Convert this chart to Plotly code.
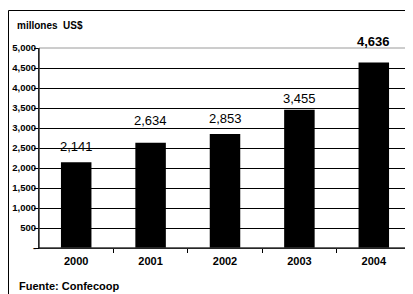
import plotly.graph_objects as go

years = ["2000", "2001", "2002", "2003", "2004"]
values = [2141, 2634, 2853, 3455, 4636]
value_labels = ["2,141", "2,634", "2,853", "3,455", "4,636"]
label_bold = [False, False, False, False, True]
label_offsets = [16, 22, 15, 11, 21]

y_ticks = [0, 500, 1000, 1500, 2000, 2500, 3000, 3500, 4000, 4500, 5000]
y_tick_text = ["-", "500", "1,000", "1,500", "2,000", "2,500", "3,000", "3,500", "4,000", "4,500", "5,000"]

FONT = "Liberation Sans Narrow, Arial Narrow, Liberation Sans, Arial, sans-serif"

xpos = list(range(len(years)))

fig = go.Figure()
fig.add_trace(go.Bar(x=xpos, y=values, marker=dict(color="black", line=dict(width=0)),
                     width=0.41, hoverinfo="skip"))

# page has an 8px body margin; figure pixel coords = page coords - 8
W, H = 405, 286
L, R, T, B = 31, 2, 40, 46
pw, ph = W - L - R, H - T - B


def px_x(x):
    return (x - L) / pw


def px_y(y):
    return (H - B - y) / ph


annotations = []
for xi, v, t, b, off in zip(xpos, values, value_labels, label_bold, label_offsets):
    annotations.append(dict(x=xi, y=v, xref="x", yref="y", text=f"<b>{t}</b>" if b else t,
                            showarrow=False, yanchor="middle", yshift=off,
                            font=dict(family=FONT, size=13, color="black")))
annotations.append(dict(x=px_x(7), y=px_y(17), xref="paper", yref="paper",
                        text="<b>millones  US$</b>",
                        showarrow=False, xanchor="left", yanchor="middle",
                        font=dict(family=FONT, size=10, color="black")))
annotations.append(dict(x=px_x(9), y=px_y(278), xref="paper", yref="paper",
                        text="<b>Fuente: Confecoop</b>",
                        showarrow=False, xanchor="left", yanchor="middle",
                        font=dict(family=FONT, size=11, color="black")))

fig.update_layout(
    width=W, height=H,
    margin=dict(l=L, r=R, t=T, b=B, pad=0),
    paper_bgcolor="white", plot_bgcolor="white",
    showlegend=False,
    annotations=annotations,
    xaxis=dict(range=[-0.5, len(years) - 0.5], tickvals=xpos,
               ticktext=[f"<b>{y}</b>" for y in years], tickangle=0,
               showgrid=False, zeroline=False, showline=True, linecolor="black", linewidth=1,
               ticks="", tickfont=dict(family=FONT, size=11, color="black"),
               ticklabelstandoff=3,
               minor=dict(tickvals=[i + 0.5 for i in xpos], ticks="outside", ticklen=4,
                          tickcolor="black", showgrid=False),
               fixedrange=True, automargin=False),
    yaxis=dict(range=[0, 5000], tickvals=y_ticks, ticktext=[f"<b>{t}</b>" for t in y_tick_text],
               showgrid=True, gridcolor="black", gridwidth=1, zeroline=False,
               showline=True, linecolor="black", linewidth=1,
               ticks="outside", ticklen=4, tickcolor="black",
               ticklabelstandoff=-4,
               tickfont=dict(family=FONT, size=9.5, color="black"), fixedrange=True,
               automargin=False),
    shapes=[
        dict(type="rect", xref="paper", yref="paper", x0=0, x1=1, y0=0, y1=1,
             line=dict(color="#9a9a9a", width=1), layer="above"),
        dict(type="line", xref="paper", yref="paper", x0=0, x1=0, y0=0, y1=1,
             line=dict(color="black", width=1), layer="above"),
        dict(type="line", xref="paper", yref="paper", x0=0, x1=1, y0=0, y1=0,
             line=dict(color="black", width=1), layer="above"),
        dict(type="rect", xref="paper", yref="paper",
             x0=px_x(0.5), x1=px_x(430), y0=px_y(320), y1=px_y(2.5),
             line=dict(color="black", width=1), layer="above"),
    ],
)

fig.write_html("out.html")
